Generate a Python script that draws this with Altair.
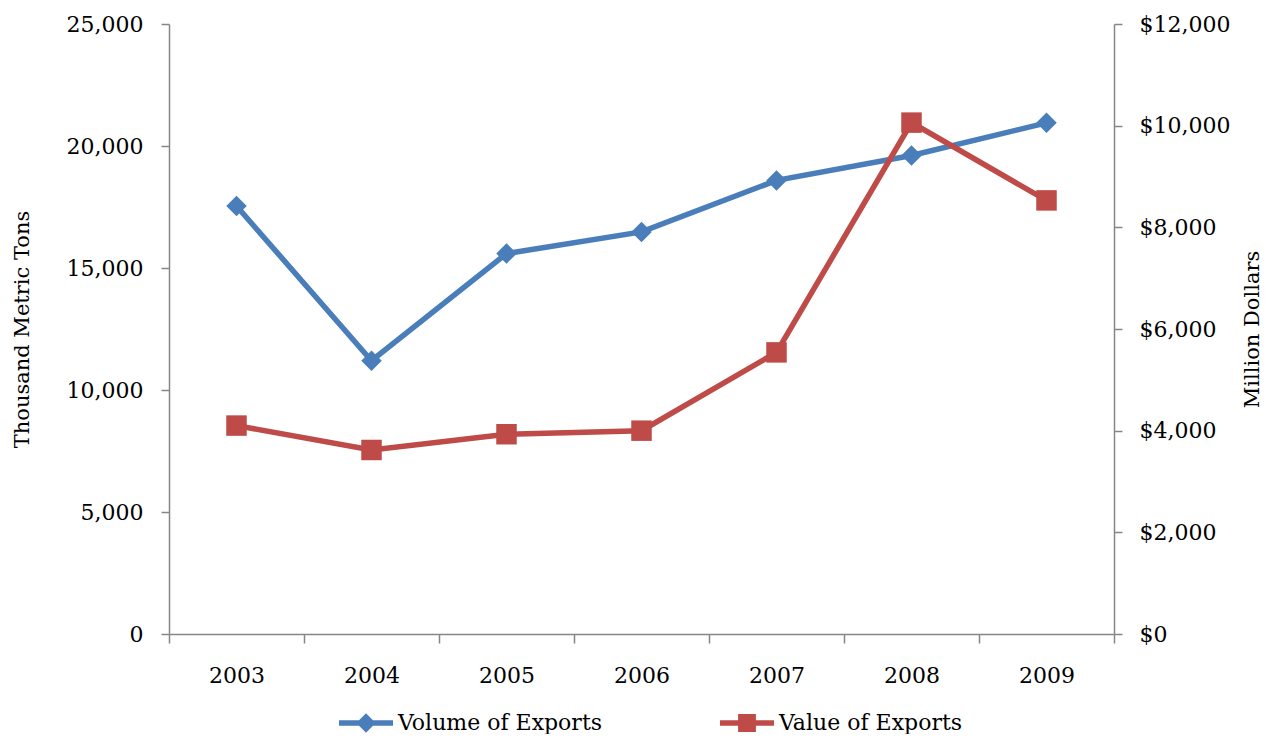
import altair as alt
import pandas as pd

years = [2003, 2004, 2005, 2006, 2007, 2008, 2009]
volume = [17540, 11200, 15590, 16480, 18590, 19610, 20950]
value = [4100, 3620, 3930, 4000, 5540, 10060, 8530]
series_names = ["Volume of Exports", "Value of Exports"]
colors = ["#4A7EBB", "#BE4B48"]

x_ticks = [2002.5, 2003, 2003.5, 2004, 2004.5, 2005, 2005.5, 2006, 2006.5,
           2007, 2007.5, 2008, 2008.5, 2009, 2009.5]
left_ticks = [0, 5000, 10000, 15000, 20000, 25000]
right_ticks = [0, 2000, 4000, 6000, 8000, 10000, 12000]

df = pd.DataFrame({"year": years, "volume": volume, "value": value})
legend_df = pd.DataFrame({"series": series_names})

FONT = "DejaVu Serif"
AX = "#868686"

xenc = alt.X(
    "year:Q",
    scale=alt.Scale(domain=[2002.5, 2009.5], nice=False, zero=False),
    axis=alt.Axis(
        values=x_ticks,
        labelExpr="datum.value % 1 == 0 ? '' + datum.value : ''",
        tickOpacity={"condition": {"test": "datum.value % 1 != 0", "value": 1}, "value": 0},
        labelOverlap=False,
        labelFlush=False,
        title=None,
        grid=False,
        tickSize=9,
        labelPadding=22,
        domainColor=AX,
        tickColor=AX,
        domainWidth=1.5,
        tickWidth=1.5,
    ),
)

vol = alt.Chart(df).mark_line(
    color=colors[0], strokeWidth=5.5,
    point=alt.OverlayMarkDef(shape="diamond", size=420, filled=True, color=colors[0], opacity=1),
).encode(
    x=xenc,
    y=alt.Y(
        "volume:Q",
        scale=alt.Scale(domain=[0, 25000], nice=False),
        axis=alt.Axis(
            orient="left", values=left_ticks, format=",.0f", title="Thousand Metric Tons",
            grid=False, tickSize=8, labelPadding=18, titlePadding=34,
            domainColor=AX, tickColor=AX, domainWidth=1.5, tickWidth=1.5,
        ),
    ),
)

val = alt.Chart(df).mark_line(
    color=colors[1], strokeWidth=5.5,
    point=alt.OverlayMarkDef(shape="square", size=420, filled=True, color=colors[1], opacity=1),
).encode(
    x=xenc,
    y=alt.Y(
        "value:Q",
        scale=alt.Scale(domain=[0, 12000], nice=False),
        axis=alt.Axis(
            orient="right", values=right_ticks,
            labelExpr="'$' + format(datum.value, ',.0f')",
            title="Million Dollars", titleAngle=270,
            grid=False, tickSize=8, labelPadding=17, titlePadding=33,
            domainColor=AX, tickColor=AX, domainWidth=1.5, tickWidth=1.5,
        ),
    ),
)

vol_path = "M-1,-0.1L1,-0.1L1,0.1L-1,0.1Z M0,-0.36L0.36,0L0,0.36L-0.36,0Z"
val_path = "M-1,-0.1L1,-0.1L1,0.1L-1,0.1Z M-0.33,-0.33L0.33,-0.33L0.33,0.33L-0.33,0.33Z"

legend_cfg = alt.Legend(
    title=None, orient="none", direction="horizontal",
    legendX=170, legendY=672, symbolSize=2916, symbolStrokeWidth=0,
    labelFontSize=22, labelFont=FONT, labelColor="black",
    labelOffset=5, columnPadding=117, padding=0, labelLimit=400,
)

leg = alt.Chart(legend_df).mark_point(filled=True, opacity=1).encode(
    color=alt.Color(
        "series:N",
        scale=alt.Scale(domain=series_names, range=colors),
        legend=legend_cfg,
    ),
    shape=alt.Shape(
        "series:N",
        scale=alt.Scale(domain=series_names, range=[vol_path, val_path]),
        legend=legend_cfg,
    ),
).transform_filter("false")

chart = alt.layer(vol, val, leg).resolve_scale(
    y="independent"
).properties(
    width=945, height=610,
    autosize=alt.AutoSizeParams(type="none"),
    padding={"left": 161, "top": 16, "right": 152, "bottom": 100},
).configure_view(
    stroke=None
).configure_axis(
    labelFont=FONT, labelFontSize=22, labelColor="black",
    titleFont=FONT, titleFontSize=21, titleFontWeight="normal", titleColor="black",
)

chart.save("out.html", embed_options={"renderer": "svg", "actions": False})
